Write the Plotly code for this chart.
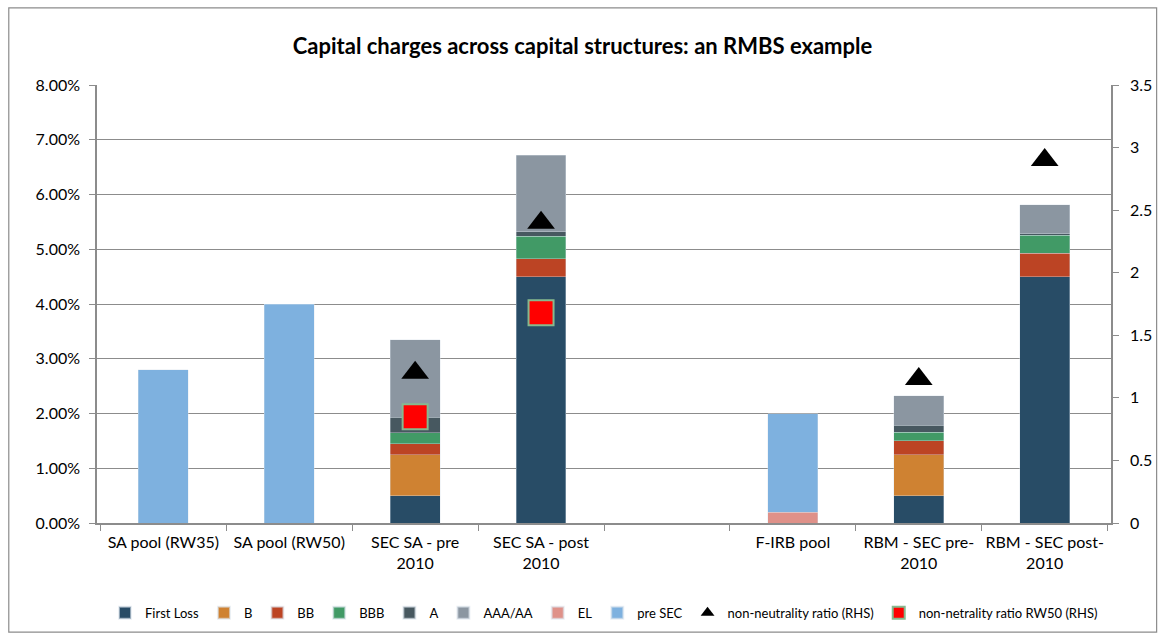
import plotly.graph_objects as go

categories = ["SA pool (RW35)", "SA pool (RW50)", "SEC SA - pre<br>2010", "SEC SA - post<br>2010",
              " ", "F-IRB pool", "RBM - SEC pre-<br>2010", "RBM - SEC post-<br>2010"]

# values in percent
first_loss = [None, None, 0.50, 4.50, None, None, 0.50, 4.50]
b_tr = [None, None, 0.75, 0.0, None, None, 0.75, 0.0]
bb_tr = [None, None, 0.20, 0.33, None, None, 0.25, 0.43]
bbb_tr = [None, None, 0.20, 0.41, None, None, 0.16, 0.33]
a_tr = [None, None, 0.28, 0.08, None, None, 0.13, 0.02]
aaa_tr = [None, None, 1.42, 1.40, None, None, 0.53, 0.53]
el = [None, None, None, None, None, 0.20, None, None]
pre_sec = [2.80, 4.00, None, None, None, 1.80, None, None]

ratio = [None, None, 1.20, 2.40, None, None, 1.15, 2.90]
ratio_rw50 = [None, None, 0.85, 1.68, None, None, None, None]

right_ticks = [0, 0.5, 1, 1.5, 2, 2.5, 3, 3.5]
right_ticktext = ["0", "0.5", "1", "1.5", "2", "2.5", "3", "3.5"]

series = [
    ("First Loss", first_loss, "#284c66"),
    ("B", b_tr, "#cf8232"),
    ("BB", bb_tr, "#bc4424"),
    ("BBB", bbb_tr, "#419a66"),
    ("A", a_tr, "#475860"),
    ("AAA/AA", aaa_tr, "#8b96a1"),
    ("EL", el, "#df9189"),
    ("pre SEC", pre_sec, "#7eb1df"),
]

FONT = "Lato, 'Open Sans', sans-serif"
TICKFONT = dict(family=FONT, size=16, color="black")

fig = go.Figure()
for name, vals, col in series:
    fig.add_trace(go.Bar(
        x=categories,
        y=[None if v is None else v / 100 for v in vals],
        name=name,
        marker=dict(color=col, line=dict(color="rgba(220,228,236,0.6)", width=0.6)),
    ))

fig.add_trace(go.Scatter(
    x=categories, y=ratio, name="non-neutrality ratio (RHS)", yaxis="y2",
    mode="markers",
    marker=dict(symbol="triangle-up", size=24, color="black"),
))
fig.add_trace(go.Scatter(
    x=categories, y=ratio_rw50, name="non-netrality ratio RW50 (RHS)", yaxis="y2",
    mode="markers",
    marker=dict(symbol="square", size=25, color="#ff0000",
                line=dict(color="#86b98e", width=2)),
))

fig.update_layout(
    width=1165, height=641,
    barmode="stack",
    bargap=0.605,
    plot_bgcolor="white",
    paper_bgcolor="white",
    font=dict(family=FONT, size=14, color="black"),
    margin=dict(l=97, r=54, t=85, b=118, autoexpand=False),
    title=dict(text="<b>Capital charges across capital structures: an RMBS example</b>",
               x=0.5, xanchor="center", y=0.927, yanchor="middle",
               font=dict(family=FONT, size=22, color="black")),
    xaxis=dict(
        type="category",
        showgrid=False,
        showline=True, linecolor="#8c8c8c", linewidth=1.5,
        ticks="outside", tickson="boundaries", ticklen=6, tickcolor="#8c8c8c",
        tickfont=TICKFONT, ticklabelstandoff=4, tickangle=0,
    ),
    yaxis=dict(
        range=[0, 0.08], dtick=0.01, tickformat=".2%",
        showgrid=True, gridcolor="#8c8c8c", gridwidth=1,
        showline=True, linecolor="#8c8c8c", linewidth=1.5,
        ticks="outside", ticklen=6, tickcolor="#8c8c8c",
        zeroline=False,
        tickfont=TICKFONT, ticklabelstandoff=6,
    ),
    yaxis2=dict(
        overlaying="y", side="right",
        range=[0, 3.5], tickvals=right_ticks, ticktext=right_ticktext,
        showgrid=False, zeroline=False,
        showline=True, linecolor="#8c8c8c", linewidth=1.5,
        ticks="outside", ticklen=6, tickcolor="#8c8c8c",
        tickfont=TICKFONT, ticklabelstandoff=8,
    ),
    legend=dict(
        orientation="h", x=0.5, xanchor="center", y=-0.205, yanchor="middle",
        traceorder="normal", itemsizing="constant", itemwidth=30,
        font=dict(family=FONT, size=13, color="black"),
        bgcolor="rgba(0,0,0,0)",
    ),
    showlegend=True,
)

# chart outer border
fig.add_shape(type="rect", xref="paper", yref="paper",
              x0=-0.087, x1=1.045, y0=-0.249, y1=1.176,
              line=dict(color="#8c8c8c", width=1.2), fillcolor="rgba(0,0,0,0)", layer="below")

fig.write_html("out.html", config={"displayModeBar": False},
               post_script="document.body.style.margin='0';")
